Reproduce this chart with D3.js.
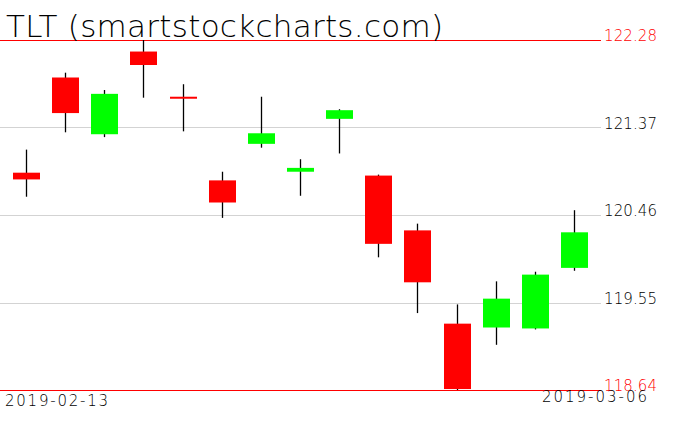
<!DOCTYPE html>
<html>
<head>
<meta charset="utf-8">
<script src="https://cdn.jsdelivr.net/npm/d3@7"></script>
<style>
  body { margin: 0; background: #fff; }
  text { font-family: "DejaVu Sans", sans-serif; }
</style>
</head>
<body>
<div id="chart"></div>
<script>
// chart size
var width = 676;
var height = 431;

// daily candles for TLT
var dates = ["2019-02-13","2019-02-14","2019-02-15","2019-02-19","2019-02-20","2019-02-21","2019-02-22",
             "2019-02-25","2019-02-26","2019-02-27","2019-02-28","2019-03-01","2019-03-04","2019-03-05","2019-03-06"];
var opens  = [120.90, 121.89, 121.30, 122.16, 121.69, 120.82, 121.20, 120.91, 121.46, 120.87, 120.30, 119.33, 119.29, 119.28, 119.91];
var highs  = [121.14, 121.94, 121.76, 122.28, 121.82, 120.91, 121.69, 121.04, 121.56, 120.88, 120.37, 119.53, 119.77, 119.87, 120.51];
var lows   = [120.65, 121.32, 121.27, 121.68, 121.33, 120.43, 121.16, 120.66, 121.10, 120.02, 119.44, 118.64, 119.11, 119.27, 119.88];
var closes = [120.83, 121.52, 121.72, 122.02, 121.67, 120.59, 121.31, 120.95, 121.55, 120.16, 119.76, 118.65, 119.59, 119.84, 120.28];

// price levels shown on the right
var levels = [122.28, 121.37, 120.46, 119.55, 118.64];
var title = "TLT (smartstockcharts.com)";

var svg = d3.select("#chart").append("svg")
  .attr("width", width)
  .attr("height", height);

svg.append("rect").attr("width", width).attr("height", height).attr("fill", "#fff");

var x = d3.scaleBand().domain(dates).range([6.93, 594]).padding(0);
var y = d3.scaleLinear().domain([118.64, 122.28]).range([390, 40]);

var lo = d3.min(levels), hi = d3.max(levels);

// horizontal level lines
svg.selectAll("line.level")
  .data(levels).enter()
  .append("line")
  .attr("class", "level")
  .attr("x1", 0).attr("x2", 601)
  .attr("y1", function(d){ return Math.round(y(d)) + 0.5; })
  .attr("y2", function(d){ return Math.round(y(d)) + 0.5; })
  .style("stroke", function(d){ return (d == lo || d == hi) ? "#ff0000" : "#d3d3d3"; })
  .style("stroke-width", 1);

// level labels
svg.selectAll("text.level")
  .data(levels).enter()
  .append("text")
  .attr("class", "level")
  .attr("x", 604)
  .attr("y", function(d){ return y(d) + 1; })
  .attr("font-size", "15px")
  .attr("font-weight", 200)
  .attr("textLength", 53)
  .attr("fill", function(d){ return (d == lo || d == hi) ? "#ff0000" : "#000"; })
  .text(function(d){ return d.toFixed(2); });

var candles = dates.map(function(d, i){
  return {date: d, o: opens[i], h: highs[i], l: lows[i], c: closes[i]};
});

function cx(d){ return x(d.date) + x.bandwidth()/2; }

// wicks
svg.selectAll("line.wick")
  .data(candles).enter()
  .append("line")
  .attr("class", "wick")
  .attr("x1", function(d){ return Math.floor(cx(d)) + 0.5; })
  .attr("x2", function(d){ return Math.floor(cx(d)) + 0.5; })
  .attr("y1", function(d){ return y(d.h); })
  .attr("y2", function(d){ return y(d.l); })
  .style("stroke", "#000")
  .style("stroke-width", 1.3);

// bodies
var bodyW = 27;
svg.selectAll("rect.body")
  .data(candles).enter()
  .append("rect")
  .attr("class", "body")
  .attr("x", function(d){ return Math.round(cx(d) - bodyW/2); })
  .attr("y", function(d){ return y(Math.max(d.o, d.c)); })
  .attr("width", bodyW)
  .attr("height", function(d){ return Math.max(2, Math.abs(y(d.o) - y(d.c))); })
  .style("fill", function(d){ return d.c >= d.o ? "#00ff00" : "#ff0000"; });

// title
svg.append("text")
  .attr("x", 6).attr("y", 37)
  .attr("font-size", "31px")
  .attr("font-weight", 200)
  .attr("textLength", 437)
  .text(title);

// first and last date
svg.append("text")
  .attr("x", 5).attr("y", 406)
  .attr("font-size", "15px")
  .attr("font-weight", 200)
  .attr("textLength", 103)
  .text(dates[0]);

svg.append("text")
  .attr("x", 542).attr("y", 402)
  .attr("font-size", "15px")
  .attr("font-weight", 200)
  .attr("textLength", 105)
  .text(dates[dates.length-1]);
</script>
</body>
</html>
